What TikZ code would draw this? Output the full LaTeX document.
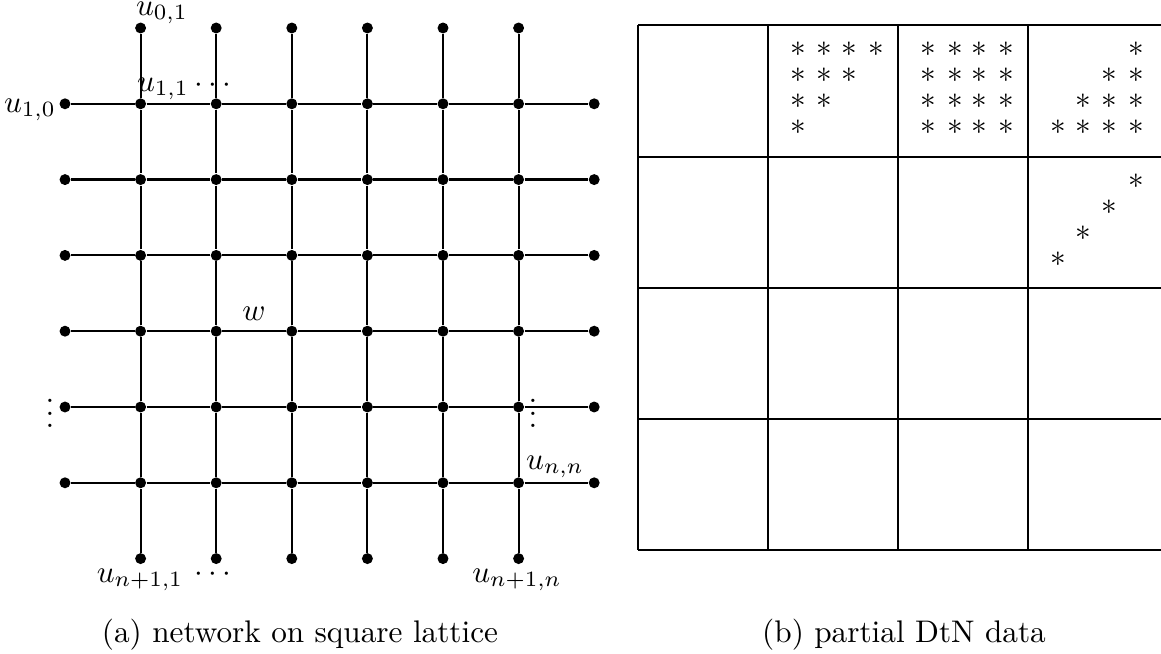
\documentclass[tikz,border=0pt]{standalone}
\begin{document}
\begin{tikzpicture}[x=0.32pt,y=-0.32pt,
  dot/.style={circle,fill=black,inner sep=0pt,minimum size=3.5pt},
  edge/.style={line width=0.7pt},
  tab/.style={line width=0.55pt},
  lab/.style={inner sep=0pt},
  star/.style={inner sep=0pt}]
\useasboundingbox (0,0) rectangle (1161,654);
% lattice nodes
\foreach \rr in {1,...,6}{
  \foreach \cc in {0,...,7}{
    \node[dot] (n-\rr-\cc) at ({65+75.6*\cc},{28+75.8*\rr}) {};
  }
}
\foreach \cc in {1,...,6}{
  \node[dot] (n-0-\cc) at ({65+75.6*\cc},28) {};
  \node[dot] (n-7-\cc) at ({65+75.6*\cc},{28+75.8*7}) {};
}
% edges
\foreach \rr in {1,...,6}{
  \foreach \cc [evaluate=\cc as \dd using int(\cc+1)] in {0,...,6}{
    \draw[edge] (n-\rr-\cc) -- (n-\rr-\dd);
  }
}
\foreach \cc in {1,...,6}{
  \foreach \rr [evaluate=\rr as \ss using int(\rr+1)] in {0,...,6}{
    \draw[edge] (n-\rr-\cc) -- (n-\ss-\cc);
  }
}
% labels
\node[lab] (l01) at (162,13) {$u_{0,1}$};
\node[lab] (l11) at (163,89) {$u_{1,1}$};
\node[lab] (ldt) at (213,86) {$\cdots$};
\node[lab] (l10) at (30,110) {$u_{1,0}$};
\node[lab,anchor=base] (lvl) at (50,427.7) {$\vdots$};
\node[lab,anchor=base] (lvr) at (533,427.7) {$\vdots$};
\node[lab] (lnn) at (555,467) {$u_{n,n}$};
\node[lab] (lw) at (254,314) {$w$};
\node[lab] (lb1) at (140,580) {$u_{n+1,1}$};
\node[lab] (ldb) at (213,575) {$\cdots$};
\node[lab] (lbn) at (517,580) {$u_{n+1,n}$};
\node[lab] (capa) at (300,635) {(a) network on square lattice};
\node[lab] (capb) at (904,635) {(b) partial DtN data};
% table
\foreach \yy in {25,157,288,419,550} \draw[tab] (638,\yy) -- (1175,\yy);
\foreach \xx in {638,768,898,1028} \draw[tab] (\xx,25) -- (\xx,550);
% stars
\foreach \ii/\yy in {0/49,1/75,2/101,3/127}{
  \foreach \jj/\xx in {0/798,1/824,2/849,3/876}{
    \pgfmathtruncatemacro{\ok}{\ii+\jj<=3 ? 1 : 0}
    \ifnum\ok=1 \node[star] (sa-\ii-\jj) at (\xx,\yy) {$*$};\fi
  }
  \foreach \jj/\xx in {0/928,1/955,2/979,3/1006}{
    \node[star] (sb-\ii-\jj) at (\xx,\yy) {$*$};
  }
  \foreach \jj/\xx in {0/1058,1/1083,2/1109,3/1136}{
    \pgfmathtruncatemacro{\ok}{\ii+\jj>=3 ? 1 : 0}
    \ifnum\ok=1 \node[star] (sc-\ii-\jj) at (\xx,\yy) {$*$};\fi
  }
}
\foreach \ii/\xx/\yy in {0/1136/181,1/1109/207,2/1083/233,3/1058/259}{
  \node[star] (sd-\ii) at (\xx,\yy) {$*$};
}
\end{tikzpicture}
\end{document}
